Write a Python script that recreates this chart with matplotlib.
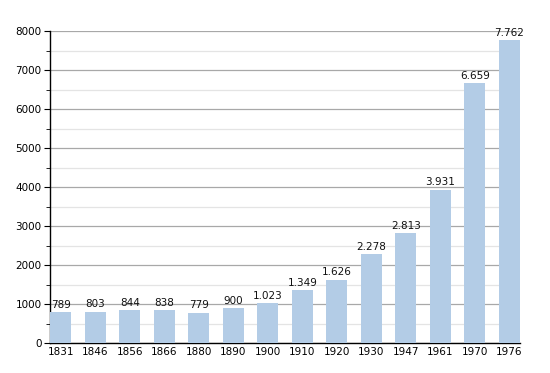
import matplotlib
matplotlib.use("Agg")
import matplotlib.pyplot as plt
from matplotlib.ticker import MultipleLocator

years = ["1831", "1846", "1856", "1866", "1880", "1890", "1900",
         "1910", "1920", "1930", "1947", "1961", "1970", "1976"]
population = [789, 803, 844, 838, 779, 900, 1023,
              1349, 1626, 2278, 2813, 3931, 6659, 7762]

BAR_COLOR = "#b3cce6"


def fmt_thousands(v: int) -> str:
    return f"{v:,}".replace(",", ".")


fig = plt.figure(figsize=(5.5, 3.73), dpi=100)
ax = fig.add_axes([50 / 550, 30 / 373, 470 / 550, 312 / 373])

x = list(range(len(years)))
bars = ax.bar(x, population, width=0.62, color=BAR_COLOR, zorder=3)

for bar, v in zip(bars, population):
    ax.text(bar.get_x() + bar.get_width() / 2, v + 60, fmt_thousands(v),
            ha="center", va="bottom", fontsize=7.5, color="#111111", zorder=4)

ax.set_xlim(-0.31, len(years) - 1 + 0.31)
ax.set_ylim(0, 8000)
ax.set_xticks(x)
ax.set_xticklabels(years)
ax.yaxis.set_major_locator(MultipleLocator(1000))
ax.yaxis.set_minor_locator(MultipleLocator(500))

ax.grid(True, axis="y", which="major", color="#a8a8a8", linewidth=0.9, zorder=0)
ax.grid(True, axis="y", which="minor", color="#e4e4e4", linewidth=0.9, zorder=0)

for side in ("top", "right"):
    ax.spines[side].set_visible(False)
ax.spines["left"].set_linewidth(1.0)
ax.spines["bottom"].set_linewidth(1.0)

ax.tick_params(axis="x", length=0, labelsize=7.5, pad=3)
ax.tick_params(axis="y", which="major", length=4, labelsize=7.5, pad=2)
ax.tick_params(axis="y", which="minor", length=3)

fig.savefig("out.png", dpi=100)
